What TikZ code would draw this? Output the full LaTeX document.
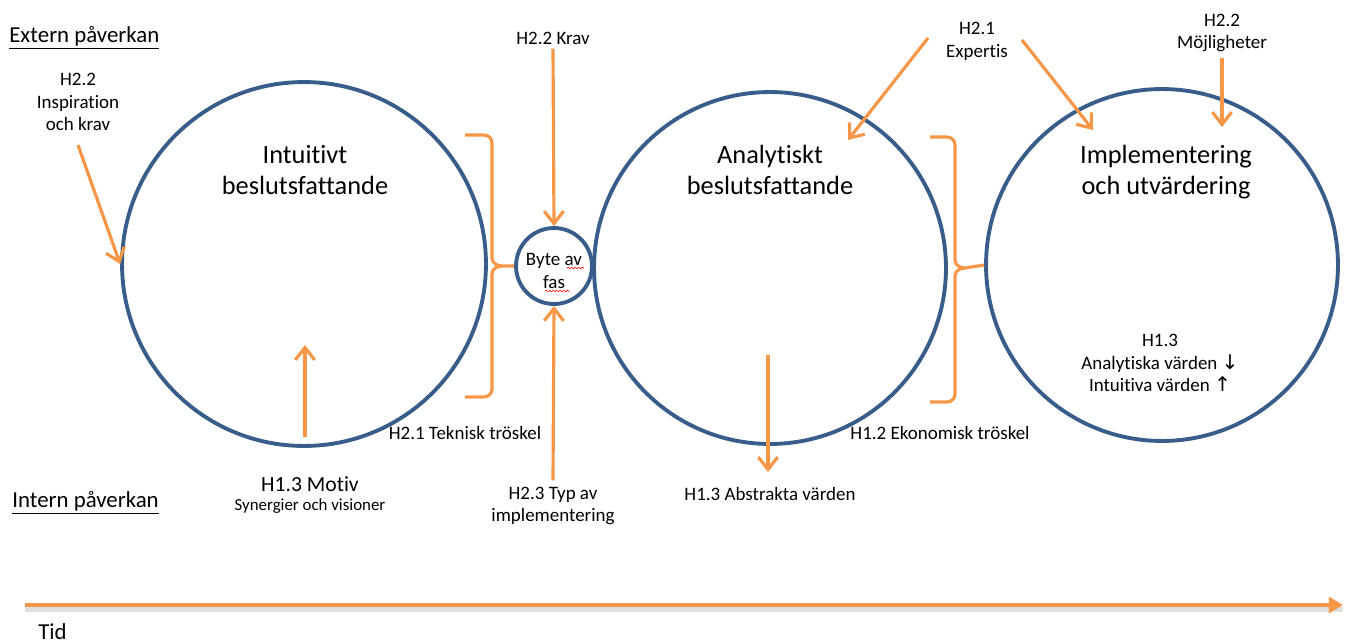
\documentclass[tikz,border=0pt]{standalone}
\usepackage{fontspec}
\setmainfont{Carlito}[Ligatures={CommonOff,ContextualOff}]
\newfontfamily\symf{DejaVu Sans}
\usetikzlibrary{arrows.meta,decorations.pathmorphing}
\definecolor{orng}{HTML}{F79646}
\definecolor{blu}{HTML}{385D8A}
\begin{document}
\begin{tikzpicture}[x=0.02cm,y=-0.02cm,
  ring/.style={draw=blu,line width=2.2pt,circle,inner sep=0pt},
  oarr/.style={draw=orng,line width=1.8pt,-{Straight Barb[length=7pt,width=11pt]}},
  brace/.style={draw=orng,line width=1.8pt},
  big/.style={align=center,font=\fontsize{15}{17.6}\selectfont,inner sep=0pt},
  small/.style={align=center,font=\fontsize{10.8}{13}\selectfont,inner sep=0pt},
  lbl/.style={align=center,font=\fontsize{13}{15}\selectfont,inner sep=0pt},
  squig/.style={draw=red,line width=0.35pt,decorate,decoration={snake,amplitude=0.5pt,segment length=2pt}}]
\useasboundingbox (0,0) rectangle (1346,643);
% circles
\node[ring,minimum size=7.28cm] (c1) at (304,264) {};
\node[ring,minimum size=1.52cm] (c0) at (554,266) {};
\node[ring,minimum size=7.04cm] (c2) at (770,268) {};
\node[ring,minimum size=7.04cm] (c3) at (1162,265) {};
% circle texts
\node[big] (t1) at (305,170) {Intuitivt\\beslutsfattande};
\node[big] (t2) at (770,170) {Analytiskt\\beslutsfattande};
\node[big] (t3) at (1166,172) {Implementering\\och utvärdering};
\node[small] (t0) at (554,271) {Byte av\\fas};
\draw[squig] (567,268) -- (584,268);
\draw[squig] (545,291) -- (570,291);
\node[small] (t3b) at (1160,363) {H1.3\\Analytiska värden {\symf\fontsize{11.5}{13}\selectfont↓}\\Intuitiva värden {\symf\fontsize{11.5}{13}\selectfont↑}};
% side labels
\node[lbl,anchor=west] (ext) at (9,38) {\underline{Extern påverkan}};
\node[lbl,anchor=west] (int) at (12,503) {\underline{Intern påverkan}};
\node[lbl,anchor=west] (tid) at (38,632) {Tid};
% external labels
\node[small] (insp) at (78,102) {H2.2\\Inspiration\\och krav};
\node[small] (krav) at (553,38) {H2.2 Krav};
\node[small] (exp) at (977,41) {H2.1\\Expertis};
\node[small] (moj) at (1222,33) {H2.2\\Möjligheter};
% internal labels
\node[small] (tek) at (465,433) {H2.1 Teknisk tröskel};
\node[small] (eko) at (940,433) {H1.2 Ekonomisk tröskel};
\node[align=center,inner sep=0pt] (mot) at (310,495) {{\fontsize{12.3}{14}\selectfont H1.3 Motiv}\\[-1pt]{\fontsize{9.6}{12}\selectfont Synergier och visioner}};
\node[small] (typ) at (553,506) {H2.3 Typ av\\implementering};
\node[small] (abs) at (770,494) {H1.3 Abstrakta värden};
% free-end coordinates
\coordinate (inspS) at (78,145);
\coordinate (m1s) at (305,437);
\coordinate (m1e) at (305,345);
\coordinate (m2s) at (768,355);
\coordinate (m2e) at (768,472);
\coordinate (e1s) at (928,38);
\coordinate (e1e) at (848,140);
\coordinate (e2s) at (1022,40);
\coordinate (e2e) at (1093,130);
\coordinate (mjs) at (1222,58);
\coordinate (mje) at (1222,127);
\coordinate (ts) at (25,605);
\coordinate (te) at (1343,605);
% arrows
\draw[oarr] (inspS) -- (c1.west);
\draw[oarr] (m1s) -- (m1e);
\draw[oarr] (krav.south) ++(0,4) -- (c0.north);
\draw[oarr] (typ.north) ++(0,-6) -- (c0.south);
\draw[oarr] (m2s) -- (m2e);
\draw[oarr] (e1s) -- (e1e);
\draw[oarr] (e2s) -- (e2e);
\draw[oarr] (mjs) -- (mje);
% braces
\draw[brace] (465,135) -- (484,135) to[out=0,in=90] (492,143) -- (492,258)
  to[out=-90,in=180] (502,266) -- (c0.west);
\draw[brace] (465,397) -- (484,397) to[out=0,in=-90] (492,389) -- (492,274)
  to[out=90,in=180] (502,266);
\draw[brace] (930,137) -- (947,137) to[out=0,in=90] (955,145) -- (955,260)
  to[out=-90,in=180] (965,268) -- (c3.west);
\draw[brace] (930,402) -- (947,402) to[out=0,in=-90] (955,394) -- (955,276)
  to[out=90,in=180] (965,268);
% time axis
\draw[black!25,line width=3pt,opacity=0.5] ([yshift=-2.5pt]ts) -- ([yshift=-2.5pt]te);
\draw[orng,line width=2.3pt,-{Triangle[length=8pt,width=9pt]}] (ts) -- (te);
\end{tikzpicture}
\end{document}
